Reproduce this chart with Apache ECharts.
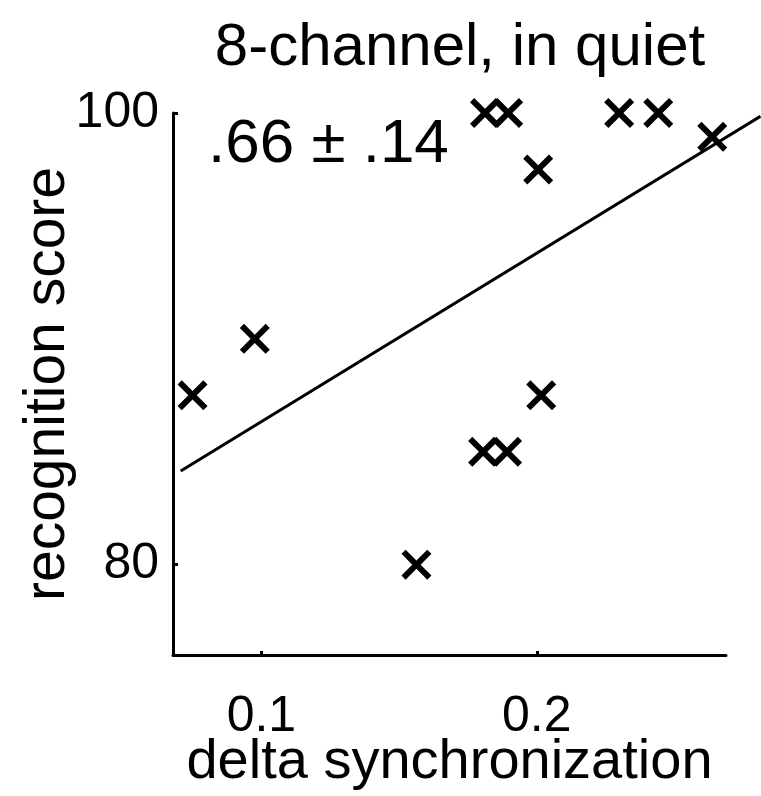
<!DOCTYPE html>
<html><head><meta charset="utf-8">
<script src="https://cdn.jsdelivr.net/npm/echarts@6/dist/echarts.min.js"></script>
<style>html,body{margin:0;padding:0;background:#fff}#c{width:761px;height:796px}</style>
</head><body><div id="c"></div>
<script>
// data
const deltaSync  = [0.0750, 0.0976, 0.1563, 0.1805, 0.1892, 0.2016, 0.1812, 0.1896, 0.2005, 0.2299, 0.2441, 0.2637];
const recogScore = [87.5,   90.0,   80.0,   85.0,   85.0,   87.5,   100.0,  100.0,  97.5,   100.0,  100.0,  98.95];
const fitX = [0.0707, 0.2812];
const fitY = [84.15, 99.85];
const xTicks = [0.1, 0.2];
const yTicks = [80, 100];
const titleText = '8-channel, in quiet';
const annotText = '.66 \u00B1 .14';
const xName = 'delta synchronization';
const yName = 'recognition score';

const FONT = 'Liberation Sans';
const scatterData = deltaSync.map((x, i) => [x, recogScore[i]]);
const fitData = fitX.map((x, i) => [x, fitY[i]]);

const d = 14;
const crossPath = 'path://M' + d + ',0L50,' + (50 - d) + 'L' + (100 - d) + ',0L100,' + d + 'L' + (50 + d) + ',50L100,' + (100 - d) +
  'L' + (100 - d) + ',100L50,' + (50 + d) + 'L' + d + ',100L0,' + (100 - d) + 'L' + (50 - d) + ',50L0,' + d + 'Z';

const X_MIN = 0.0679, X_MAX = 0.2687;
const GRID_L = 173, GRID_R = 35, GRID_T = 113, GRID_B = 141;
// second, invisible grid sharing the same scale but reaching the right edge (fit line runs past the axis)
const W_MAIN = 761 - GRID_L - GRID_R, W_EXT = 761 - GRID_L;
const X_MAX_EXT = X_MIN + (X_MAX - X_MIN) * W_EXT / W_MAIN;

const chart = echarts.init(document.getElementById('c'), null, {renderer: 'canvas'});
chart.setOption({
  backgroundColor: '#fff',
  animation: false,
  title: {
    text: titleText, left: 455, top: 13, textAlign: 'center',
    textStyle: {fontFamily: FONT, fontSize: 60, fontWeight: 'normal', color: '#000'}
  },
  grid: [
    {left: GRID_L, top: GRID_T, right: GRID_R, bottom: GRID_B, containLabel: false, outerBoundsMode: 'none'},
    {left: GRID_L, top: GRID_T, right: 0, bottom: GRID_B, containLabel: false, outerBoundsMode: 'none'}
  ],
  xAxis: [{
    type: 'value', min: X_MIN, max: X_MAX, gridIndex: 0,
    name: xName, nameLocation: 'middle', nameGap: 80, nameMoveOverlap: false,
    nameTextStyle: {fontFamily: FONT, fontSize: 56, color: '#000'},
    axisLine: {show: true, onZero: false, lineStyle: {color: '#000', width: 3}},
    axisTick: {show: true, inside: true, length: 4, customValues: xTicks, lineStyle: {color: '#000', width: 3}},
    axisLabel: {customValues: xTicks, margin: 37, fontFamily: FONT, fontSize: 50, color: '#000',
      formatter: v => String(Math.round(v * 10) / 10)},
    splitLine: {show: false}
  }, {
    type: 'value', min: X_MIN, max: X_MAX_EXT, gridIndex: 1, show: false
  }],
  yAxis: [{
    type: 'value', min: 76, max: 100, gridIndex: 0,
    name: yName, nameLocation: 'middle', nameGap: 96, nameRotate: 90, nameMoveOverlap: false,
    nameTextStyle: {fontFamily: FONT, fontSize: 57, color: '#000'},
    axisLine: {show: true, onZero: false, lineStyle: {color: '#000', width: 3}},
    axisTick: {show: true, inside: true, length: 5, customValues: yTicks, lineStyle: {color: '#000', width: 3}},
    axisLabel: {customValues: yTicks, margin: 14, fontFamily: FONT, fontSize: 50, color: '#000'},
    splitLine: {show: false}
  }, {
    type: 'value', min: 76, max: 100, gridIndex: 1, show: false
  }],
  graphic: [{
    type: 'text', left: 208, top: 114,
    style: {text: annotText, font: '62px "' + FONT + '"', fill: '#000'}
  }],
  series: [
    {
      type: 'line', data: fitData, xAxisIndex: 1, yAxisIndex: 1, clip: false, symbol: 'none',
      lineStyle: {color: '#000', width: 3}, z: 2
    },
    {
      type: 'scatter', data: scatterData, xAxisIndex: 0, yAxisIndex: 0, symbol: crossPath, symbolSize: 30,
      itemStyle: {color: '#000', opacity: 1}, z: 3
    }
  ]
});
</script></body></html>
